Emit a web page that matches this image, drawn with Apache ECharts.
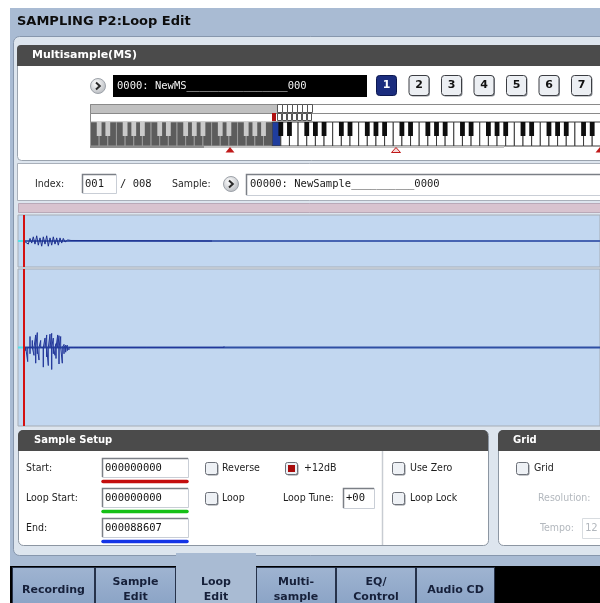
<!DOCTYPE html>
<html><head><meta charset="utf-8">
<script src="https://cdn.jsdelivr.net/npm/echarts/dist/echarts.min.js"></script>
<style>html,body{margin:0;padding:0;background:#fff}#c{width:600px;height:603px}</style>
</head><body><div id="c"></div>
<script>
// ---------------- data ----------------
const screenTitle = 'SAMPLING P2:Loop Edit';
const msName = '0000: NewMS________________000';
const sampleName = '00000: NewSample__________0000';
const indexValue = '001';
const indexTotal = '/ 008';
const msButtons = ['1', '2', '3', '4', '5', '6', '7'];
const startValue = '000000000';
const loopStartValue = '000000000';
const endValue = '000088607';
const loopTune = '+00';
const tabLabels = ['Recording', 'Sample\nEdit', 'Loop\nEdit', 'Multi-\nsample', 'EQ/\nControl', 'Audio CD'];
const viewRange = [-600, 57600];          // samples shown across the wave panels
const startSample = 0;

// overview waveform (upper panel): sample index / normalised level
const overviewX = [0, 430, 600, 770, 930, 1100, 1270, 1430, 1600, 1770, 1930, 2100, 2270, 2430, 2600, 2770, 2930, 3100, 3270, 3430, 3600, 3770, 3930, 4100, 4370, 4530, 4700, 4900, 18600, 18700, 18800];
const overviewY = [0, -0.12, 0.10, -0.08, 0.16, -0.12, 0.20, -0.16, 0.12, -0.20, 0.16, -0.12, 0.20, -0.20, 0.12, -0.16, 0.16, -0.12, 0.12, -0.16, 0.12, -0.08, 0.10, -0.04, 0.04, -0.03, 0.02, 0, 0, 0.06, 0];

// detail waveform (lower panel): per-column peak high / low
const detailX = [170, 370, 600, 830, 1000, 1170, 1330, 1500, 1670, 1930, 2100, 2270, 2430, 2600, 2770, 2930, 3100, 3200, 3370, 3500, 3670, 3830, 4000, 4170, 4330, 4500, 4700, 4930, 5430,
  12270, 12600, 13100, 13600, 14300, 14600, 15100, 15400, 15800, 16300, 16600, 17300, 17900, 18300, 18700, 19200, 19600, 20000];
const detailHi = [0, 0, 0.14, 0.09, 0, 0.16, 0.19, 0, 0.09, 0, 0.12, 0.16, 0, 0.17, 0.18, 0.12, 0, 0.05, 0.16, 0.15, 0.14, 0, 0.04, 0.03, 0.03, 0.02, 0.015, 0.01, 0.006,
  0.02, 0.015, 0.01, 0.02, 0.015, 0.02, 0.025, 0.015, 0.02, 0.02, 0.015, 0.02, 0.015, 0.02, 0.025, 0.015, 0.02, 0.015];
const detailLo = [-0.04, -0.18, -0.08, 0, -0.10, -0.20, -0.08, -0.16, 0, -0.25, 0, -0.12, -0.23, 0, -0.28, -0.08, -0.10, -0.14, 0, -0.21, 0, -0.20, -0.08, -0.06, -0.04, -0.03, -0.015, -0.01, -0.006,
  -0.015, -0.01, -0.015, -0.01, -0.02, -0.015, -0.01, -0.02, -0.015, -0.01, -0.02, -0.015, -0.02, -0.01, -0.015, -0.02, -0.01, -0.015];

// ---------------- build ----------------
const overviewData = overviewX.map((x, i) => [x, overviewY[i]]);
const detailData = [];
detailX.forEach((x, i) => { detailData.push([x, 0], [x, detailHi[i]], [x, detailLo[i]], [x, 0]); });

const G = [];
const LBL = '10.5px "Liberation Sans Narrow","DejaVu Sans Condensed","Liberation Sans",sans-serif';
const MONO = '10.5px "DejaVu Sans Mono",monospace';
const BOLD = (s) => 'bold ' + s + 'px "DejaVu Sans",sans-serif';
function R(x, y, w, h, fill, stroke, r, z, lw) {
  G.push({ type: 'rect', silent: true, z: z == null ? 1 : z, shape: { x: stroke ? x + 0.5 : x, y: stroke ? y + 0.5 : y, width: w, height: h, r: r || 0 },
    style: { fill: fill || 'none', stroke: stroke || null, lineWidth: lw || 1 } });
}
function L(x1, y1, x2, y2, c, lw, z) {
  G.push({ type: 'line', silent: true, z: z == null ? 3 : z, shape: { x1, y1, x2, y2 }, style: { stroke: c, lineWidth: lw || 1 } });
}
function T(x, y, s, font, color, align, z) {
  G.push({ type: 'text', silent: true, z: z == null ? 6 : z, x, y, style: { text: s, font, fill: color, align: align || 'left', verticalAlign: 'middle', lineHeight: 15 } });
}
function P(pts, fill, stroke, z) {
  G.push({ type: 'polygon', silent: true, z: z == null ? 4 : z, shape: { points: pts }, style: { fill, stroke: stroke || null, lineWidth: 1 } });
}
function sunken(x, y, w, h) {
  R(x, y, w, h, '#ffffff', '#c9ced6', 0, 2);
  G.push({ type: 'polyline', silent: true, z: 3, shape: { points: [[x + 0.5, y + h], [x + 0.5, y + 0.5], [x + w, y + 0.5]] }, style: { stroke: '#7b7f86', lineWidth: 1.5, fill: 'none' } });
}
function checkbox(x, y, on) {
  R(x + 1.5, y + 1.5, 12, 12, '#8b8f96', null, 2, 2);
  R(x, y, 12, 12, '#eef1f5', '#6c7078', 2, 3);
  if (on) R(x + 3, y + 3, 7, 7, '#a80c0c', null, 0, 4);
}
function arrowBtn(cx, cy) {
  G.push({ type: 'circle', silent: true, z: 3, shape: { cx, cy, r: 7.5 },
    style: { fill: new echarts.graphic.RadialGradient(0.4, 0.35, 0.8, [{ offset: 0, color: '#ffffff' }, { offset: 1, color: '#a9adb3' }]), stroke: '#9ea3aa', lineWidth: 1 } });
  G.push({ type: 'polyline', silent: true, z: 4, shape: { points: [[cx - 2, cy - 3.5], [cx + 1.8, cy], [cx - 2, cy + 3.5]] }, style: { stroke: '#2a2a2a', lineWidth: 2, fill: 'none' } });
}

// screen frame
R(10, 8, 600, 600, '#a9bbd3', null, 0, -10);
T(17, 22, screenTitle, BOLD(13), '#0d0d0d', 'left');
R(13, 36, 600, 519, '#dde5ee', '#8797ad', 6, -9);

// Multisample panel
R(17, 45, 600, 115, '#ffffff', '#9aa3ae', 4, -8);
R(17, 45, 600, 21, '#4b4b4b', null, [4, 0, 0, 0], -7);
T(32, 55.5, 'Multisample(MS)', BOLD(11), '#ffffff');
arrowBtn(98, 86);
R(113, 75, 254, 22, '#000000', null, 0, 1);
T(117, 86, msName, MONO, '#f2f2f2');
msButtons.forEach((b, i) => {
  const x = 376 + i * 32.5, sel = i === 0;
  if (!sel) R(x + 1.5, 76.5, 20, 20, '#8d9198', null, 3, 1);
  R(x, 75, 20, 20, sel ? '#1b2d7e' : '#eceff3', sel ? '#0c1850' : '#3b3d42', 3, 2);
  T(x + 10.5, 85.5, b, BOLD(11), sel ? '#ffffff' : '#111111', 'center');
});

// keyboard
const kx0 = 90.5, kw = 8.65, kTop = 122, kH = 24;
R(90, 104, 520, 9, '#ffffff', '#8a8a8a', 0, 1);
R(90, 104, 187, 9, '#c0c0c0', '#8a8a8a', 0, 2);
R(90, 113, 520, 9, '#ffffff', '#8a8a8a', 0, 1);
R(272, 113, 4, 8, '#b01212', null, 0, 3);
for (let i = 0; i < 7; i++) { R(277 + i * 5, 104, 5, 8, '#ffffff', '#555', 0, 3); R(277 + i * 5, 113, 4, 7, '#ffffff', '#555', 0, 3); }
for (let k = 0; k < 62; k++) {
  const x = kx0 + k * kw; if (x > 602) break;
  const dark = k < 21, blue = k === 21;
  G.push({ type: 'rect', silent: true, z: 2, shape: { x, y: kTop, width: kw, height: kH },
    style: { fill: dark ? '#5c5c5c' : (blue ? '#1f3d9e' : '#ffffff'), stroke: dark ? '#9a9a9a' : '#3a3a3a', lineWidth: 1 } });
}
for (let o = 0; o < 10; o++) {
  [1, 2, 4, 5, 6].forEach(b => {
    const bx = kx0 + (o * 7 + b) * kw; if (bx > 604) return;
    const dark = bx < kx0 + 21 * kw;
    G.push({ type: 'rect', silent: true, z: 3, shape: { x: bx - 2.4, y: kTop, width: 4.8, height: 14 }, style: { fill: dark ? '#cacaca' : '#0e0e0e' } });
  });
}
L(90, 147, 204, 147, '#8e8e8e', 2, 2);
L(204, 147, 504, 147, '#c2c2c2', 2, 2);
P([[230, 147], [225.5, 152.5], [234.5, 152.5]], '#c01818');
P([[396, 147.5], [391.5, 152.5], [400.5, 152.5]], '#f6d8d8', '#c01818');
P([[600, 147], [595.5, 152.5], [604.5, 152.5]], '#c01818');

// index / sample row
R(17, 163, 600, 37, '#ffffff', '#a9b0ba', 0, -8);
T(35, 184.5, 'Index:', LBL, '#2a2a2a');
sunken(82, 174, 34, 19);
T(85, 184, indexValue, MONO, '#1a1a1a');
T(120, 184, indexTotal, MONO, '#1a1a1a');
T(172, 184.5, 'Sample:', LBL, '#2a2a2a');
arrowBtn(231, 184);
sunken(246, 174, 360, 21);
T(250, 184.5, sampleName, MONO, '#1a1a1a');

// pink bar
R(18, 203, 600, 9, '#d8c3cf', '#b9a9b8', 0, -8);

// Sample Setup panel
R(18, 430, 470, 115, '#ffffff', '#8c96a2', 5, -8);
R(18, 430, 470, 21, '#4b4b4b', null, [5, 5, 0, 0], -7);
T(34, 440.5, 'Sample Setup', BOLD(10), '#ffffff');
L(382.5, 451, 382.5, 545, '#c8ccd2', 1.5, 1);
const rows = [['Start:', startValue, '#c40e0e', 458], ['Loop Start:', loopStartValue, '#16c016', 488], ['End:', endValue, '#1434e6', 518]];
rows.forEach(r => {
  T(26, r[3] + 10, r[0], LBL, '#1e1e1e');
  sunken(102, r[3], 86, 19);
  T(105, r[3] + 10, r[1], MONO, '#111111');
  G.push({ type: 'line', silent: true, z: 3, shape: { x1: 103, y1: r[3] + 23.5, x2: 187, y2: r[3] + 23.5 }, style: { stroke: r[2], lineWidth: 3.5, lineCap: 'round' } });
});
checkbox(205, 462, false); T(222, 468.5, 'Reverse', LBL, '#1e1e1e');
checkbox(285, 462, true); T(304, 468.5, '+12dB', LBL, '#1e1e1e');
checkbox(205, 492, false); T(222, 498.5, 'Loop', LBL, '#1e1e1e');
T(283, 498.5, 'Loop Tune:', LBL, '#1e1e1e');
sunken(343, 488, 31, 20);
T(346, 498, loopTune, MONO, '#111111');
checkbox(392, 462, false); T(410, 468.5, 'Use Zero', LBL, '#1e1e1e');
checkbox(392, 492, false); T(410, 498.5, 'Loop Lock', LBL, '#1e1e1e');

// Grid panel
R(498, 430, 120, 115, '#ffffff', '#8c96a2', 5, -8);
R(498, 430, 120, 21, '#4b4b4b', null, [5, 5, 0, 0], -7);
T(513, 440.5, 'Grid', BOLD(10), '#ffffff');
checkbox(516, 462, false); T(534, 468.5, 'Grid', LBL, '#1e1e1e');
T(538, 498.5, 'Resolution:', LBL, '#b3b8be');
T(540, 528.5, 'Tempo:', LBL, '#b3b8be');
R(582, 518, 30, 20, '#ffffff', '#d8dce0', 0, 2);
T(585, 528, '12', MONO, '#b3b8be');

// tabs
R(10, 566, 600, 40, '#000000', null, 0, -9);
const tabX = [12, 95, 176, 256, 336, 416, 495];
tabLabels.forEach((t, i) => {
  const x = tabX[i], w = tabX[i + 1] - x, sel = i === 2;
  if (sel) R(x, 553, w, 52, '#a9bbd3', null, 0, -8.5);
  else R(x, 567, w - 1, 40, new echarts.graphic.LinearGradient(0, 0, 0, 1, [{ offset: 0, color: '#9fb4d1' }, { offset: 1, color: '#89a2c5' }]), '#26324a', 0, -8);
  T(x + w / 2, 590, t, BOLD(11), '#16203a', 'center');
});

// ---------------- chart ----------------
const chart = echarts.init(document.getElementById('c'), null, { renderer: 'canvas' });
const axisX = (gi) => ({ type: 'value', gridIndex: gi, min: viewRange[0], max: viewRange[1], show: false });
const axisY = (gi) => ({ type: 'value', gridIndex: gi, min: -1, max: 1, show: false });
const startLine = { silent: true, symbol: 'none', label: { show: false }, animation: false,
  lineStyle: { color: '#d41010', width: 2, type: 'solid' }, data: [{ xAxis: startSample }] };
const base = (gi, color) => ({ type: 'line', xAxisIndex: gi, yAxisIndex: gi, data: [[startSample, 0], [viewRange[1], 0]], showSymbol: false, silent: true, lineStyle: { color, width: 2 }, z: 2 });
const pre = (gi) => ({ type: 'line', xAxisIndex: gi, yAxisIndex: gi, data: [[viewRange[0], 0], [startSample, 0]], showSymbol: false, silent: true, lineStyle: { color: '#52e2ea', width: 2 }, z: 2 });
chart.setOption({
  animation: false,
  backgroundColor: '#ffffff',
  grid: [
    { left: 18, top: 215, width: 582, height: 52, show: true, backgroundColor: '#c2d7f0', borderColor: '#a6adb6', borderWidth: 1 },
    { left: 18, top: 269, width: 582, height: 157, show: true, backgroundColor: '#c2d7f0', borderColor: '#a6adb6', borderWidth: 1 }
  ],
  xAxis: [axisX(0), axisX(1)],
  yAxis: [axisY(0), axisY(1)],
  graphic: { elements: G },
  series: [
    pre(0), base(0, '#4764b2'),
    { type: 'line', xAxisIndex: 0, yAxisIndex: 0, data: overviewData, showSymbol: false, silent: true, lineStyle: { color: '#1c2f8e', width: 1 }, z: 3, markLine: startLine },
    pre(1), base(1, '#2f4fa3'),
    { type: 'line', xAxisIndex: 1, yAxisIndex: 1, data: detailData, showSymbol: false, silent: true, lineStyle: { color: '#22379a', width: 1 }, z: 3, markLine: startLine }
  ]
});
</script></body></html>
